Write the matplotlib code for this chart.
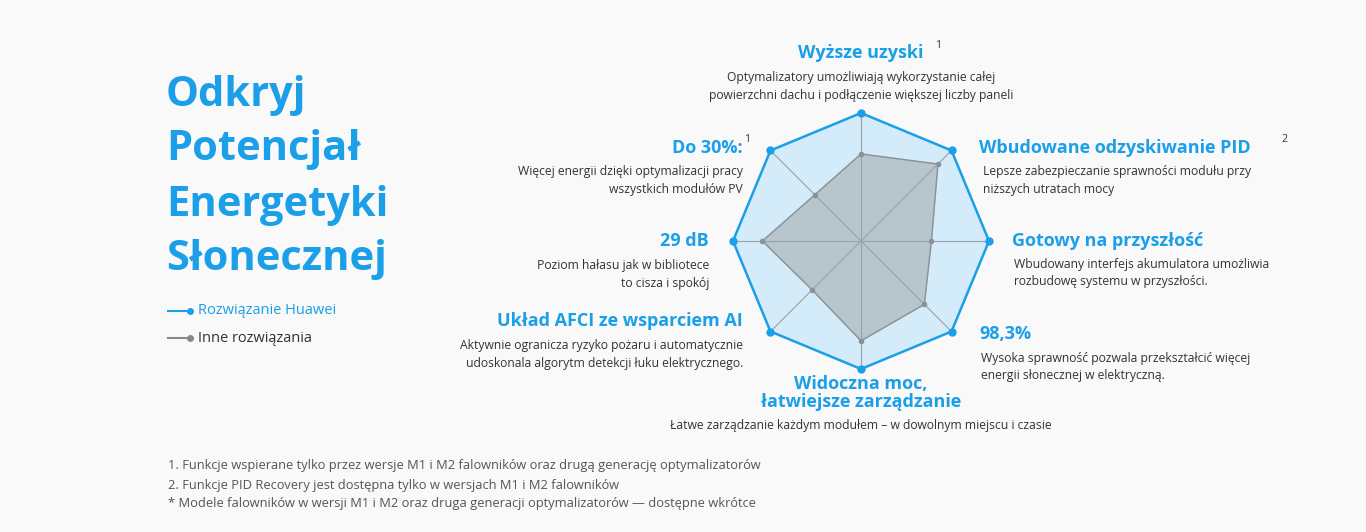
import numpy as np
import matplotlib
matplotlib.use("Agg")
import matplotlib.pyplot as plt

categories = ["Wyższe uzyski", "Wbudowane odzyskiwanie PID", "Gotowy na przyszłość", "98,3%",
              "Widoczna moc, łatwiejsze zarządzanie", "Układ AFCI ze wsparciem AI", "29 dB", "Do 30%:"]
huawei = [1.0, 1.0, 1.0, 1.0, 1.0, 1.0, 1.0, 1.0]
others = [0.68, 0.85, 0.55, 0.70, 0.78, 0.54, 0.77, 0.51]
series_labels = ["Rozwiązanie Huawei", "Inne rozwiązania"]

BLUE = "#1a9fe8"
TXT = "#333333"
FONT = "Open Sans"
plt.rcParams["font.family"] = FONT

fig = plt.figure(figsize=(13.66, 5.32), dpi=100)
fig.patch.set_facecolor("#f9f9f9")
bg = fig.add_axes([0, 0, 1, 1])
bg.set_xlim(0, 1366); bg.set_ylim(532, 0); bg.axis("off")

# Title
for i, line in enumerate(["Odkryj", "Potencjał", "Energetyki", "Słonecznej"]):
    bg.text(166, 95 + i * 55, line, fontsize=30, fontweight="bold", color=BLUE, va="center", ha="left")

# legend
bg.plot([168, 190], [311, 311], color=BLUE, lw=1.5, marker="o", markersize=4, markevery=[1])
bg.text(198, 311, series_labels[0], color=BLUE, fontsize=10.5, va="center")
bg.plot([168, 190], [338, 338], color="#888888", lw=1.5, marker="o", markersize=4, markevery=[1])
bg.text(198, 338, series_labels[1], color=TXT, fontsize=10.5, va="center")

# radar
cx, cy, R = 861, 241, 128
pax = fig.add_axes([(cx - R) / 1366, (532 - cy - R) / 532, 2 * R / 1366, 2 * R / 532], projection="polar")
pax.set_theta_offset(np.pi / 2); pax.set_theta_direction(-1)
pax.set_ylim(0, 1.0); pax.axis("off")
ang = np.linspace(0, 2 * np.pi, len(categories), endpoint=False)
angc = np.concatenate([ang, ang[:1]])
h = np.array(huawei + huawei[:1]); o = np.array(others + others[:1])
pax.fill(angc, h, color="#d4ecf9", zorder=1)
pax.fill(angc, o, color="#b4c2c9", alpha=0.9, zorder=2)
for a in ang:
    pax.plot([a, a], [0, 1], color="#9aa0a4", lw=0.8, zorder=3)
pax.plot(angc, o, color="#8a9297", lw=1, zorder=4)
pax.plot(ang, others, "o", color="#8a9297", markersize=3, zorder=5)
pax.plot(angc, h, color=BLUE, lw=1.8, zorder=4, clip_on=False)
pax.plot(ang, huawei, "o", color=BLUE, markersize=5, zorder=5, clip_on=False)

def head(x, y, s, ha):
    bg.text(x, y, s, fontsize=13, fontweight="bold", color=BLUE, ha=ha, va="center", linespacing=1.0)
def body(x, y, s, ha):
    bg.text(x, y, s, fontsize=8.7, color=TXT, ha=ha, va="top", linespacing=1.45)
def sup(x, y, s):
    bg.text(x, y, s, fontsize=7.5, color=TXT, ha="left", va="center")

head(861, 53, categories[0], "center"); sup(936, 46, "1")
body(861, 71, "Optymalizatory umożliwiają wykorzystanie całej\npowierzchni dachu i podłączenie większej liczby paneli", "center")
head(979, 148, categories[1], "left"); sup(1281, 139, "2")
body(983, 165, "Lepsze zabezpieczanie sprawności modułu przy\nniższych utratach mocy", "left")
head(1012, 241, categories[2], "left")
body(1014, 258, "Wbudowany interfejs akumulatora umożliwia\nrozbudowę systemu w przyszłości.", "left")
head(979, 334, categories[3], "left")
body(981, 352, "Wysoka sprawność pozwala przekształcić więcej\nenergii słonecznej w elektryczną.", "left")
head(861, 393, "Widoczna moc,\nłatwiejsze zarządzanie", "center")
body(861, 419, "Łatwe zarządzanie każdym modułem – w dowolnym miejscu i czasie", "center")
head(743, 321, categories[5], "right")
body(743, 339, "Aktywnie ogranicza ryzyko pożaru i automatycznie\nudoskonala algorytm detekcji łuku elektrycznego.", "right")
head(709, 241, categories[6], "right")
body(709, 259, "Poziom hałasu jak w bibliotece\nto cisza i spokój", "right")
head(743, 148, categories[7], "right"); sup(745, 139, "1")
body(743, 165, "Więcej energii dzięki optymalizacji pracy\nwszystkich modułów PV", "right")

foot = ["1. Funkcje wspierane tylko przez wersje M1 i M2 falowników oraz drugą generację optymalizatorów",
        "2. Funkcje PID Recovery jest dostępna tylko w wersjach M1 i M2 falowników",
        "* Modele falowników w wersji M1 i M2 oraz druga generacji optymalizatorów — dostępne wkrótce"]
for i, f in enumerate(foot):
    bg.text(168, 466 + i * 19, f, fontsize=9.3, color="#555555", va="center")

fig.savefig("out.png", dpi=100, facecolor=fig.get_facecolor())
